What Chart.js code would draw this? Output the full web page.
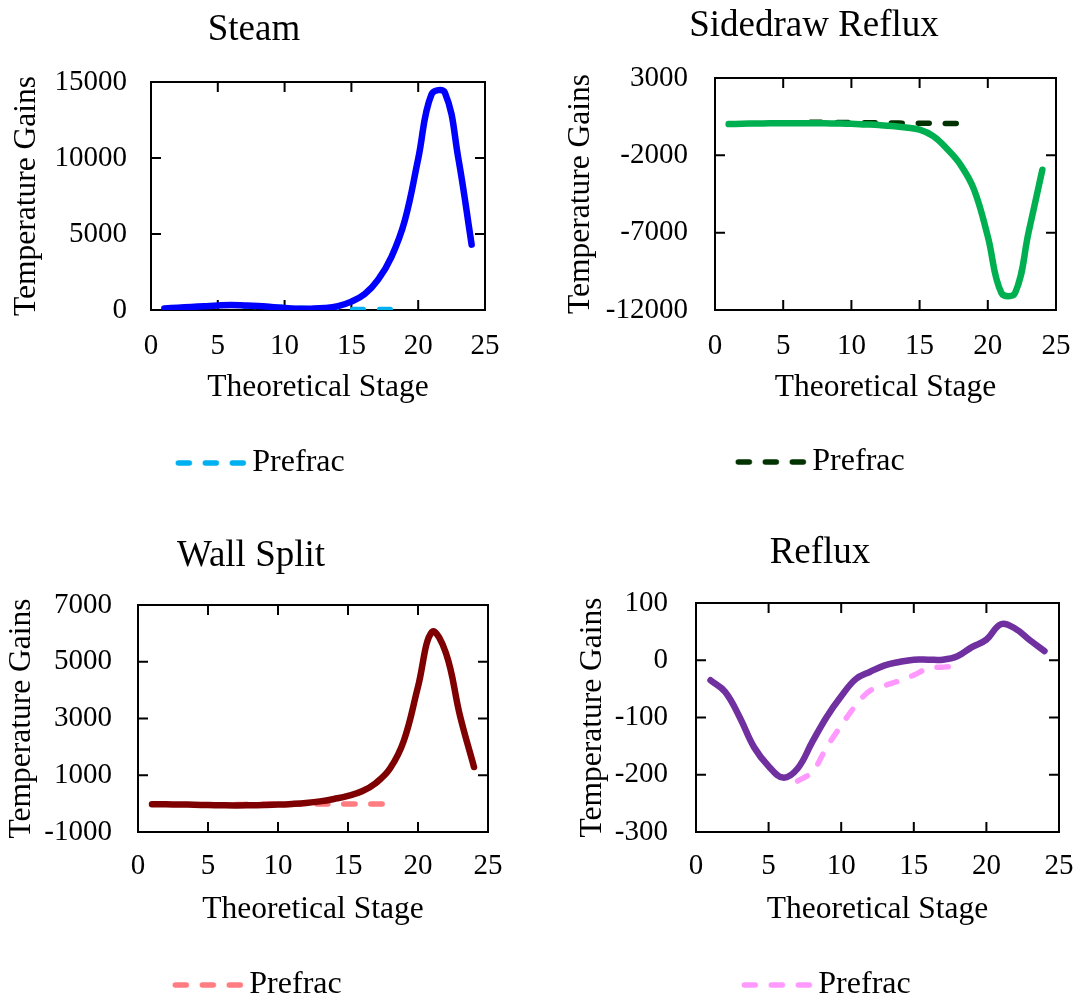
<!DOCTYPE html>
<html>
<head>
<meta charset="utf-8">
<script src="https://cdn.jsdelivr.net/npm/chart.js@4.4.1/dist/chart.umd.min.js"></script>
<style>
html, body { margin: 0; padding: 0; background: #fff; overflow: hidden; width: 1077px; height: 1001px; }
canvas { position: absolute; }
</style>
</head>
<body>
<canvas id="steam" width="508" height="500" style="left:0;top:0"></canvas>
<canvas id="sidedraw" width="518" height="500" style="left:555px;top:0"></canvas>
<canvas id="wall" width="502" height="500" style="left:0;top:520px"></canvas>
<canvas id="reflux" width="530" height="500" style="left:555px;top:520px"></canvas>
<script>
// Data
const stages = [1, 2, 3, 4, 5, 6, 7, 8, 9, 10, 11, 12, 13, 14, 15, 16, 17, 18, 19, 20, 21, 22, 23, 24];
const prefrac_stages = [7, 8, 9, 10, 11, 12, 13, 14, 15, 16, 17, 18];
const x_ticks = [0, 5, 10, 15, 20, 25];

const steam_main = [100, 150, 200, 250, 300, 330, 300, 260, 200, 130, 90, 90, 130, 260, 550, 1050, 2000, 3500, 5900, 9950, 14200, 14300, 10000, 4300];
const steam_prefrac = [250, 230, 200, 170, 120, 80, 50, 40, 40, 40, 40, 40];
const steam_y_ticks = [0, 5000, 10000, 15000];

const sidedraw_main = [20, 40, 60, 70, 80, 80, 80, 70, 60, 40, 0, -40, -100, -200, -340, -760, -1575, -2610, -4230, -7250, -10900, -10900, -6930, -2935];
const sidedraw_prefrac = [140, 140, 130, 120, 110, 100, 90, 80, 75, 70, 60, 50];
const sidedraw_y_ticks = [-12000, -7000, -2000, 3000];

const wall_main = [-20, -25, -30, -40, -50, -60, -65, -60, -50, -35, -10, 25, 80, 165, 270, 435, 730, 1235, 2235, 4120, 6050, 5300, 3100, 1290];
const wall_prefrac = [-30, -25, -20, -15, -12, -10, -10, -10, -10, -10, -10, -10];
const wall_y_ticks = [-1000, 1000, 3000, 5000, 7000];

const reflux_main = [-35, -55, -99, -152, -185, -205, -189, -143, -99, -63, -33, -20, -9, -3, 1, 1, 1, 7, 23, 36, 63, 55, 35, 16];
const reflux_prefrac = [-211, -195, -152, -114, -79, -53, -44, -36, -26, -14, -12, -10];
const reflux_y_ticks = [-300, -200, -100, 0, 100];

// Style
const serif = "'Liberation Serif', 'Times New Roman', serif";
Chart.defaults.font.family = serif;
Chart.defaults.color = '#000';
const tick_len = 10;
const dash = [11, 16];

function to_points(xs, ys) {
    return xs.map((x, i) => ({x: x, y: ys[i]}));
}

// dashed legend sample, drawn a bit to the right so it sits close to the text
function legend_line(color) {
    const cv = document.createElement('canvas');
    cv.width = 100;
    cv.height = 12;
    const g = cv.getContext('2d');
    g.strokeStyle = color;
    g.lineWidth = 5.5;
    g.lineCap = 'round';
    g.setLineDash(dash);
    g.beginPath();
    g.moveTo(28.5, 6);
    g.lineTo(94.5, 6);
    g.stroke();
    return cv;
}

// box frame with inward ticks on all four sides
const frame_plugin = {
    id: 'frame',
    beforeDatasetsDraw(chart) {
        const {ctx, chartArea: a, scales} = chart;
        ctx.save();
        ctx.strokeStyle = '#000';
        ctx.lineWidth = 2;
        ctx.strokeRect(a.left, a.top, a.right - a.left, a.bottom - a.top);
        ctx.beginPath();
        scales.x.ticks.forEach(t => {
            const px = scales.x.getPixelForValue(t.value);
            if (px <= a.left + 1 || px >= a.right - 1) return;
            ctx.moveTo(px, a.top); ctx.lineTo(px, a.top + tick_len);
            ctx.moveTo(px, a.bottom); ctx.lineTo(px, a.bottom - tick_len);
        });
        scales.y.ticks.forEach(t => {
            const py = scales.y.getPixelForValue(t.value);
            if (py <= a.top + 1 || py >= a.bottom - 1) return;
            ctx.moveTo(a.left, py); ctx.lineTo(a.left + tick_len, py);
            ctx.moveTo(a.right, py); ctx.lineTo(a.right - tick_len, py);
        });
        ctx.stroke();
        ctx.restore();
    }
};

function make_chart(id, c) {
    return new Chart(document.getElementById(id), {
        type: 'line',
        data: {
            datasets: [
                {
                    label: c.title,
                    data: to_points(stages, c.main),
                    borderColor: c.main_color,
                    borderWidth: 6.5,
                    borderCapStyle: 'round',
                    borderJoinStyle: 'round',
                    pointRadius: 0,
                    tension: 0.4,
                },
                {
                    label: 'Prefrac',
                    data: to_points(prefrac_stages, c.prefrac),
                    borderColor: c.prefrac_color,
                    borderWidth: 5.5,
                    borderDash: dash,
                    borderCapStyle: 'round',
                    pointRadius: 0,
                    tension: 0.4,
                },
            ]
        },
        options: {
            responsive: false,
            animation: false,
            layout: { padding: { left: 0, top: 0, right: 0, bottom: c.pad_bottom } },
            plugins: {
                title: {
                    display: true,
                    text: c.title,
                    color: '#000',
                    font: { size: 37, weight: 'normal', lineHeight: 1.2 },
                    padding: { top: c.title_pt, bottom: c.title_pb },
                },
                legend: {
                    position: 'bottom',
                    labels: {
                        usePointStyle: true,
                        pointStyleWidth: 73,
                        padding: 10,
                        color: '#000',
                        font: { size: 32 },
                        generateLabels: chart => chart.data.datasets
                            .map((ds, i) => ({
                                text: ds.label,
                                strokeStyle: ds.borderColor,
                                fillStyle: ds.borderColor,
                                lineWidth: 0,
                                pointStyle: legend_line(ds.borderColor),
                                hidden: false,
                                datasetIndex: i,
                            }))
                            .filter(item => item.text === 'Prefrac'),
                    },
                },
                tooltip: { enabled: false },
            },
            scales: {
                x: {
                    type: 'linear',
                    min: x_ticks[0],
                    max: x_ticks[x_ticks.length - 1],
                    grid: { display: false, drawTicks: false },
                    border: { display: false },
                    ticks: { padding: c.xtick_pad, font: { size: 29 }, callback: v => String(v) },
                    afterBuildTicks: scale => { scale.ticks = x_ticks.map(v => ({value: v})); },
                    title: {
                        display: true,
                        text: 'Theoretical Stage',
                        font: { size: 31.5 },
                        padding: { top: 0, bottom: c.xtitle_pb },
                    },
                    afterFit: scale => {
                        scale.height = c.x_height;
                        scale.paddingLeft = 0;
                        scale.paddingRight = 0;
                    },
                },
                y: {
                    min: c.y_ticks[0],
                    max: c.y_ticks[c.y_ticks.length - 1],
                    grid: { display: false, drawTicks: false },
                    border: { display: false },
                    ticks: { padding: c.ytick_pad, font: { size: 29 }, callback: v => String(v) },
                    afterBuildTicks: scale => { scale.ticks = c.y_ticks.map(v => ({value: v})); },
                    title: {
                        display: true,
                        text: 'Temperature Gains',
                        font: { size: 31.5 },
                        padding: { top: c.ytitle_pt, bottom: 0 },
                    },
                    afterFit: scale => { scale.width = c.y_width; },
                },
                // empty right-hand spacer so title and legend stay centred on the canvas
                spacer: {
                    type: 'linear',
                    position: 'right',
                    grid: { display: false, drawTicks: false },
                    border: { display: false },
                    ticks: { display: false },
                    afterFit: scale => { scale.width = c.right_width; },
                },
            },
        },
        plugins: [frame_plugin],
    });
}

make_chart('steam', {
    title: 'Steam', main: steam_main, prefrac: steam_prefrac, y_ticks: steam_y_ticks,
    main_color: '#0000FF', prefrac_color: '#00B0F0',
    right_width: 23, pad_bottom: 11, title_pt: 8, title_pb: 29.6, ytitle_pt: 8, ytick_pad: 24,
    y_width: 151, x_height: 127, xtick_pad: 19, xtitle_pb: 30,
});
make_chart('sidedraw', {
    title: 'Sidedraw Reflux', main: sidedraw_main, prefrac: sidedraw_prefrac, y_ticks: sidedraw_y_ticks,
    main_color: '#00B050', prefrac_color: '#003300',
    right_width: 17, pad_bottom: 12, title_pt: 4, title_pb: 29.6, ytitle_pt: 7, ytick_pad: 27,
    y_width: 160, x_height: 126, xtick_pad: 19, xtitle_pb: 29,
});
make_chart('wall', {
    title: 'Wall Split', main: wall_main, prefrac: wall_prefrac, y_ticks: wall_y_ticks,
    main_color: '#7F0000', prefrac_color: '#FF7C80',
    right_width: 14, pad_bottom: 9, title_pt: 14, title_pb: 26.6, ytitle_pt: 3, ytick_pad: 26,
    y_width: 138, x_height: 127, xtick_pad: 17, xtitle_pb: 30,
});
make_chart('reflux', {
    title: 'Reflux', main: reflux_main, prefrac: reflux_prefrac, y_ticks: reflux_y_ticks,
    main_color: '#7030A0', prefrac_color: '#FF99FF',
    right_width: 26, pad_bottom: 9, title_pt: 11, title_pb: 27.6, ytitle_pt: 19, ytick_pad: 28,
    y_width: 141, x_height: 127, xtick_pad: 17, xtitle_pb: 30,
});
</script>
</body>
</html>
